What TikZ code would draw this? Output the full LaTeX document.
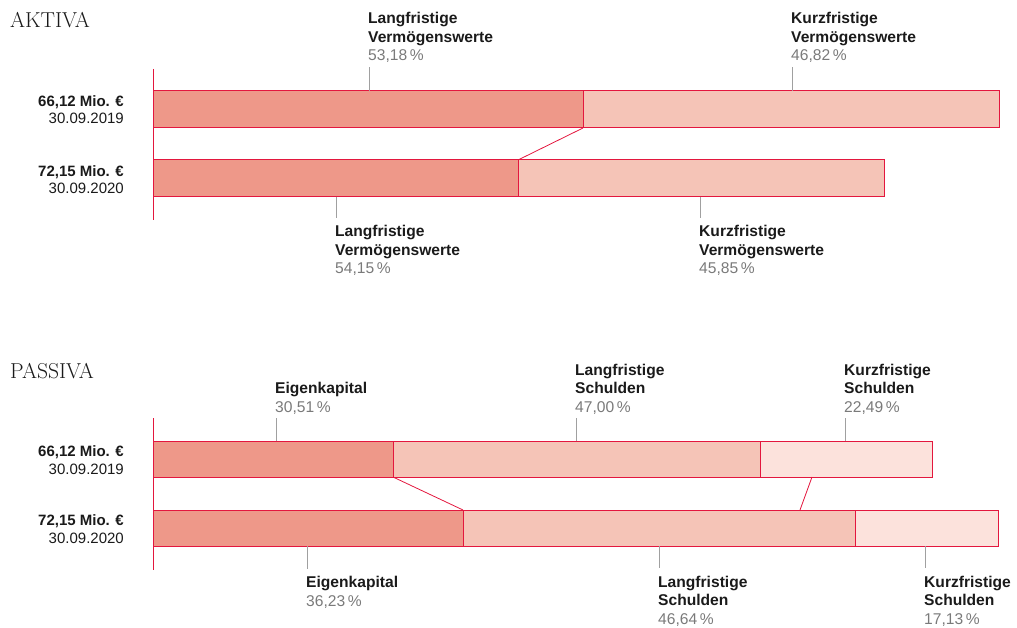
\documentclass[tikz,border=0pt]{standalone}
\usepackage{fontspec}
\newfontfamily\labelfont{Liberation Sans}
\usetikzlibrary{positioning}

\definecolor{barred}{HTML}{E3173E}
\definecolor{segdark}{HTML}{EE9889}
\definecolor{segmid}{HTML}{F5C4B7}
\definecolor{seglight}{HTML}{FCE2DC}
\definecolor{tickgrey}{HTML}{A0A0A0}
\definecolor{pctgrey}{HTML}{7A7A7A}
\definecolor{textdark}{HTML}{1A1A1A}

\newcommand{\pctval}[1]{{\mdseries\color{pctgrey}#1\,\%}}

\begin{document}
\begin{tikzpicture}[x=1pt, y=-1pt,
    seg/.style={draw=barred, line width=1pt, inner sep=0pt, outer sep=0pt,
      anchor=north west, minimum height=#1},
    seg/.default=37pt,
    link/.style={draw=barred, line width=0.8pt},
    axis/.style={draw=barred, line width=1pt},
    tick/.style={draw=tickgrey, line width=0.8pt},
    lbl/.style={anchor=base west, align=left, inner sep=0pt, text=textdark,
      font=\labelfont\bfseries\fontsize{15.6}{18.5}\selectfont},
    sum/.style={anchor=base east, align=right, inner sep=0pt, text=textdark,
      font=\labelfont\fontsize{15}{17.3}\selectfont},
    title/.style={anchor=base west, inner sep=0pt, text=textdark,
      font=\fontsize{21.6}{21.6}\selectfont}]
  \useasboundingbox (0,0) rectangle (1017,628);

  % AKTIVA
  \node[title] (akTitle) at (10,28) {AKTIVA};
  \draw[axis] (153,69) -- (153,220);
  \node[seg, fill=segdark, minimum width=430pt] (akL19) at (153,91) {};
  \node[seg, fill=segmid, minimum width=416pt] (akK19) at (583,91) {};
  \node[seg, fill=segdark, minimum width=365pt] (akL20) at (153,160) {};
  \node[seg, fill=segmid, minimum width=366pt] (akK20) at (518,160) {};
  \draw[link] (akL19.south east) -- (akL20.north east);

  \node[sum] (akSum19) at (124,124) {\textbf{66,12 Mio. €}\\30.09.2019};
  \node[sum] (akSum20) at (124,194) {\textbf{72,15 Mio. €}\\30.09.2020};

  \node[lbl] (akLTop) at (368,61) {Langfristige\\Vermögenswerte\\\pctval{53,18}};
  \node[lbl] (akKTop) at (791,61) {Kurzfristige\\Vermögenswerte\\\pctval{46,82}};
  \node[lbl] (akLBot) at (335,274) {Langfristige\\Vermögenswerte\\\pctval{54,15}};
  \node[lbl] (akKBot) at (699,274) {Kurzfristige\\Vermögenswerte\\\pctval{45,85}};
  \draw[tick] ([yshift=-4pt,xshift=1pt]akLTop.south west) -- ([xshift=1pt]akLTop.west |- akL19.north);
  \draw[tick] ([yshift=-4pt,xshift=1pt]akKTop.south west) -- ([xshift=1pt]akKTop.west |- akK19.north);
  \draw[tick] ([xshift=1pt]akLBot.west |- akL20.south) -- ([yshift=7pt,xshift=1pt]akLBot.north west);
  \draw[tick] ([xshift=1pt]akKBot.west |- akK20.south) -- ([yshift=7pt,xshift=1pt]akKBot.north west);

  % PASSIVA
  \node[title] (paTitle) at (10,378) {PASSIVA};
  \draw[axis] (153,418) -- (153,570);
  \node[seg=36pt, fill=segdark, minimum width=240pt] (paE19) at (153,441) {};
  \node[seg=36pt, fill=segmid, minimum width=367pt] (paL19) at (393,441) {};
  \node[seg=36pt, fill=seglight, minimum width=172pt] (paK19) at (760,441) {};
  \node[seg=36pt, fill=segdark, minimum width=310pt] (paE20) at (153,510) {};
  \node[seg=36pt, fill=segmid, minimum width=392pt] (paL20) at (463,510) {};
  \node[seg=36pt, fill=seglight, minimum width=143pt] (paK20) at (855,510) {};
  \draw[link] (paE19.south east) -- (paE20.north east);
  \draw[link] ([xshift=52pt]paK19.south west) -- ([xshift=-55pt]paK20.north west);

  \node[sum] (paSum19) at (124,474) {\textbf{66,12 Mio. €}\\30.09.2019};
  \node[sum] (paSum20) at (124,543) {\textbf{72,15 Mio. €}\\30.09.2020};

  \node[lbl] (paETop) at (275,412) {Eigenkapital\\\pctval{30,51}};
  \node[lbl] (paLTop) at (575,412) {Langfristige\\Schulden\\\pctval{47,00}};
  \node[lbl] (paKTop) at (844,412) {Kurzfristige\\Schulden\\\pctval{22,49}};
  \node[lbl] (paEBot) at (306,606) {Eigenkapital\\\pctval{36,23}};
  \node[lbl] (paLBot) at (658,624) {Langfristige\\Schulden\\\pctval{46,64}};
  \node[lbl] (paKBot) at (924,624) {Kurzfristige\\Schulden\\\pctval{17,13}};
  \draw[tick] ([yshift=-4pt,xshift=1pt]paETop.south west) -- ([xshift=1pt]paETop.west |- paE19.north);
  \draw[tick] ([yshift=-4pt,xshift=1pt]paLTop.south west) -- ([xshift=1pt]paLTop.west |- paL19.north);
  \draw[tick] ([yshift=-4pt,xshift=1pt]paKTop.south west) -- ([xshift=1pt]paKTop.west |- paK19.north);
  \draw[tick] ([xshift=1pt]paEBot.west |- paE20.south) -- ([yshift=7pt,xshift=1pt]paEBot.north west);
  \draw[tick] ([xshift=1pt]paLBot.west |- paL20.south) -- ([yshift=7pt,xshift=1pt]paLBot.north west);
  \draw[tick] ([xshift=1pt]paKBot.west |- paK20.south) -- ([yshift=7pt,xshift=1pt]paKBot.north west);
\end{tikzpicture}
\end{document}
